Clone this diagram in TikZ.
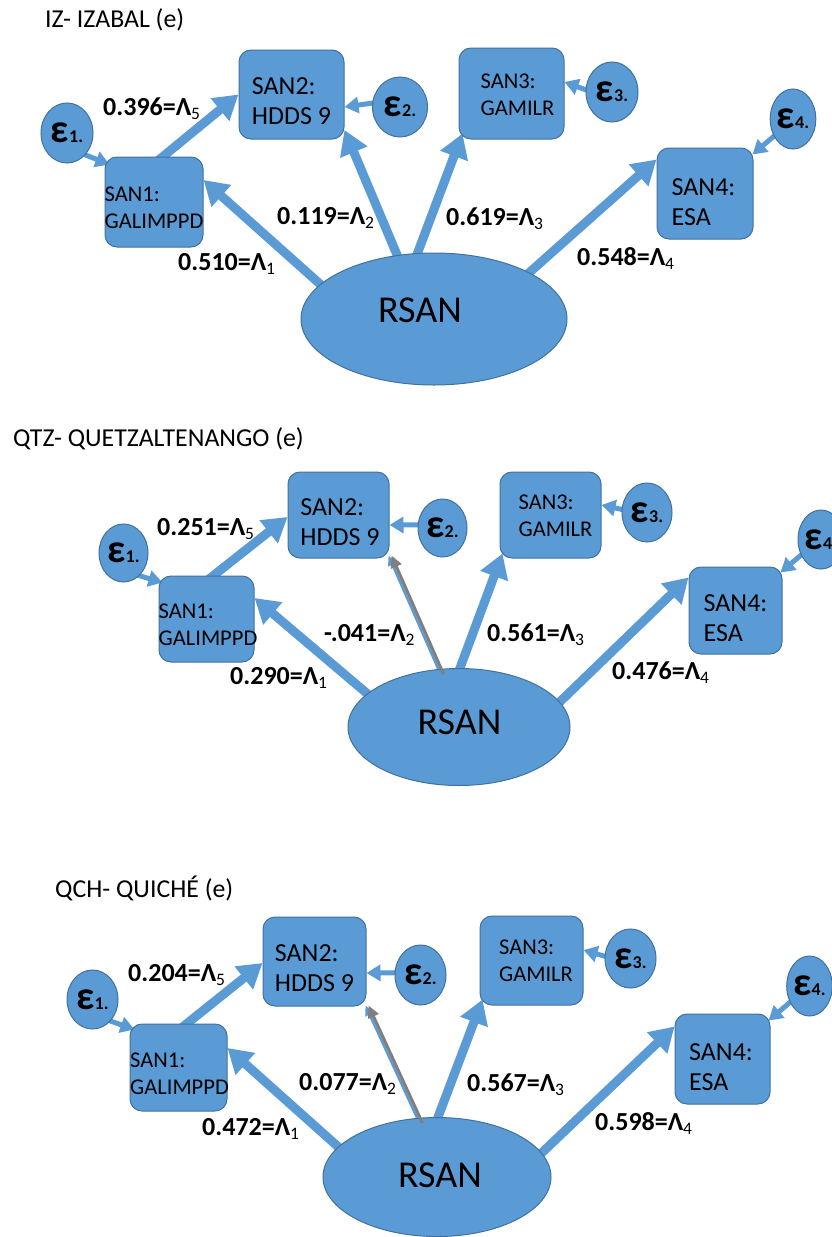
\documentclass[tikz,border=0pt]{standalone}
\usepackage{fontspec}
\setmainfont{Carlito}
\usetikzlibrary{arrows.meta,shapes.geometric}

\definecolor{sanfill}{HTML}{5B9BD5}
\definecolor{sanedge}{HTML}{41719C}
\definecolor{weakgray}{HTML}{7F7F7F}

\pgfdeclarelayer{bg}
\pgfsetlayers{bg,main}

% loading label: bold value, Lambda and a lowered index
\newcommand\lam[2]{\textbf{#1=Λ}\raisebox{-4pt}{\fontsize{17.5}{17.5}\selectfont #2}}
% error term: large bold epsilon with a small index
\newcommand\errterm[1]{{\fontsize{40}{40}\selectfont\bfseries ε}{\fontsize{18}{18}\selectfont\bfseries #1.}}

\tikzset{
  box/.style={draw=sanedge, line width=1pt, fill=sanfill, rounded corners=12pt, inner sep=0pt},
  err/.style={ellipse, draw=sanedge, line width=1pt, fill=sanfill, inner sep=0pt},
  latent/.style={ellipse, draw=sanedge, line width=1pt, fill=sanfill, inner sep=0pt},
  bigtext/.style={font=\fontsize{26}{30}\selectfont, align=left, inner sep=0pt},
  smalltext/.style={font=\fontsize{22.5}{27}\selectfont, align=left, inner sep=0pt},
  rsantext/.style={font=\fontsize{38}{40}\selectfont, inner sep=0pt},
  coef/.style={anchor=base west, inner sep=0pt, font=\fontsize{26}{30}\selectfont},
  title/.style={anchor=base west, inner sep=0pt, font=\fontsize{25.8}{30}\selectfont},
  load/.style={draw=sanfill, line width=9pt, -{Triangle[width=28pt,length=24pt]}, shorten <=-12pt},
  errpath/.style={draw=sanfill, line width=5pt, -{Triangle[width=16pt,length=14pt]}, shorten <=-6pt},
  weak/.style={draw=weakgray, line width=3pt, -{Triangle[width=11pt,length=12pt]}, shorten <=-6pt},
  weakblue/.style={draw=sanfill, line width=2.5pt, -{Triangle[width=9pt,length=10pt]}, shorten <=-6pt},
}

\begin{document}
\begin{tikzpicture}[x=1pt,y=-1pt]
\useasboundingbox (0,0) rectangle (831,1237);
\begin{pgfonlayer}{bg}
  \fill[white] (0,0) rectangle (831,1237);
\end{pgfonlayer}

% ---------------- IZ - IZABAL ----------------
\node[title] (t1) at (45,27.3) {IZ- IZABAL (e)};
\node[latent, minimum width=266pt, minimum height=132pt,
      label={[rsantext,xshift=-14pt,yshift=9pt]center:RSAN}] (r1) at (434,319) {};
\node[box, minimum width=98pt, minimum height=90pt,
      label={[smalltext,yshift=-5.5pt]center:{SAN1:\\GALIMPPD}}] (s11) at (154,202) {};
\node[box, minimum width=105pt, minimum height=89pt,
      label={[bigtext,yshift=-7pt]center:{SAN2:\\HDDS 9}}] (s12) at (291.5,94.5) {};
\node[box, minimum width=105pt, minimum height=91pt,
      label={[smalltext,xshift=6pt,yshift=-1pt]center:{SAN3:\\GAMILR}}] (s13) at (511.5,93.5) {};
\node[box, minimum width=96pt, minimum height=91pt,
      label={[bigtext,xshift=-1.5pt,yshift=-8.5pt]center:{SAN4:\\ESA}}] (s14) at (705,193.5) {};
\node[err, minimum width=52pt, minimum height=60pt] (e11) at (67,133) {\errterm{1}};
\node[err, minimum width=55pt, minimum height=60pt] (e12) at (400,107) {\errterm{2}};
\node[err, minimum width=52pt, minimum height=60pt] (e13) at (612,92) {\errterm{3}};
\node[err, minimum width=45pt, minimum height=60pt] (e14) at (793,119) {\errterm{4}};
\node[coef] (c15) at (103,115) {\lam{0.396}{5}};
\node[coef] (c12) at (277,224) {\lam{0.119}{2}};
\node[coef] (c13) at (446,225) {\lam{0.619}{3}};
\node[coef] (c11) at (178,270.5) {\lam{0.510}{1}};
\node[coef] (c14) at (577,265) {\lam{0.548}{4}};

\begin{pgfonlayer}{bg}
  \draw[load] (r1.163) -- ([yshift=22pt]s11.east);
  \draw[load] (r1.120) -- ([yshift=-35.5pt]s12.east);
  \draw[load] (r1.104) -- ([xshift=4pt,yshift=6pt]s13.south west);
  \draw[load] (r1.26) -- ([yshift=-12pt]s14.north west);
  \draw[load] ([xshift=9pt]s11.north) -- (s12.west);
  \draw[errpath] (e11.-50) -- ([xshift=5pt,yshift=-8pt]s11.north west);
  \draw[errpath] (e12.172) -- ([yshift=-12.5pt]s12.east);
  \draw[errpath] (e13.175) -- ([yshift=11.5pt]s13.east);
  \draw[errpath] (e14.222) -- ([xshift=-1pt,yshift=-7pt]s14.north east);
\end{pgfonlayer}

% ---------------- QTZ - QUETZALTENANGO ----------------
\node[title] (t2) at (13,446.7) {QTZ- QUETZALTENANGO (e)};
\node[latent, minimum width=222pt, minimum height=117pt,
      label={[rsantext,xshift=0.5pt,yshift=5pt]center:RSAN}] (r2) at (459,727) {};
\node[box, minimum width=95pt, minimum height=86pt,
      label={[smalltext,xshift=1.5pt,yshift=-6pt]center:{SAN1:\\GALIMPPD}}] (s21) at (206.5,619) {};
\node[box, minimum width=101pt, minimum height=86pt,
      label={[bigtext,xshift=1.5pt,yshift=-7pt]center:{SAN2:\\HDDS 9}}] (s22) at (338.5,515) {};
\node[box, minimum width=101pt, minimum height=86pt,
      label={[smalltext,xshift=5pt,yshift=-0.5pt]center:{SAN3:\\GAMILR}}] (s23) at (550.5,515) {};
\node[box, minimum width=93pt, minimum height=87pt,
      label={[bigtext,yshift=-7.5pt]center:{SAN4:\\ESA}}] (s24) at (735.5,610.5) {};
\node[err, minimum width=49pt, minimum height=58pt] (e21) at (123.5,553) {\errterm{1}};
\node[err, minimum width=49pt, minimum height=58pt] (e22) at (442.5,528) {\errterm{2}};
\node[err, minimum width=50pt, minimum height=59pt] (e23) at (647,512.5) {\errterm{3}};
\node[err, minimum width=46pt, minimum height=59pt] (e24) at (821,539.5) {\errterm{4}};
\node[coef] (c25) at (157,535) {\lam{0.251}{5}};
\node[coef] (c22) at (324,641.7) {\lam{-.041}{2}};
\node[coef] (c21) at (230,684) {\lam{0.290}{1}};
\node[coef] (c23) at (487,641) {\lam{0.561}{3}};
\node[coef] (c24) at (612,679) {\lam{0.476}{4}};

\begin{pgfonlayer}{bg}
  \draw[load] (r2.160) -- ([yshift=21pt]s21.east);
  \draw[weakblue] ([xshift=-3pt]r2.107) -- ([xshift=-1pt,yshift=3pt]s22.south east);
  \draw[load] (r2.89) -- ([xshift=3pt,yshift=5pt]s23.south west);
  \draw[load] (r2.14) -- ([yshift=-11pt]s24.north west);
  \draw[load] ([xshift=7pt]s21.north) -- ([yshift=-2pt]s22.west);
  \draw[errpath] (e21.-55) -- ([xshift=4pt,yshift=-7pt]s21.north west);
  \draw[errpath] (e22.173) -- ([yshift=-10pt]s22.east);
  \draw[errpath] (e23.173) -- ([yshift=10pt]s23.east);
  \draw[errpath] (e24.218) -- ([xshift=-2pt,yshift=-6pt]s24.north east);
\end{pgfonlayer}
\draw[weak] (r2.107) -- ([xshift=2pt,yshift=3pt]s22.south east);

% ---------------- QCH - QUICHE ----------------
\node[title] (t3) at (55,897) {QCH- QUICHÉ (e)};
\node[latent, minimum width=228pt, minimum height=119pt,
      label={[rsantext,xshift=3pt,yshift=2pt]center:RSAN}] (r3) at (437,1177) {};
\node[box, minimum width=97pt, minimum height=87pt,
      label={[smalltext,xshift=1pt,yshift=-6pt]center:{SAN1:\\GALIMPPD}}] (s31) at (178.5,1067.5) {};
\node[box, minimum width=103pt, minimum height=89pt,
      label={[bigtext,yshift=-6.5pt]center:{SAN2:\\HDDS 9}}] (s32) at (314.5,961.5) {};
\node[box, minimum width=103pt, minimum height=89pt,
      label={[smalltext,xshift=4.5pt,yshift=-0.5pt]center:{SAN3:\\GAMILR}}] (s33) at (531.5,960.5) {};
\node[box, minimum width=95pt, minimum height=90pt,
      label={[bigtext,xshift=-1.5pt,yshift=-8pt]center:{SAN4:\\ESA}}] (s34) at (722.5,1059) {};
\node[err, minimum width=51pt, minimum height=59pt] (e31) at (92.5,999.5) {\errterm{1}};
\node[err, minimum width=51pt, minimum height=60pt] (e32) at (420.5,975) {\errterm{2}};
\node[err, minimum width=51pt, minimum height=59pt] (e33) at (630.5,958.5) {\errterm{3}};
\node[err, minimum width=44pt, minimum height=60pt] (e34) at (809.5,986) {\errterm{4}};
\node[coef] (c35) at (128,981.7) {\lam{0.204}{5}};
\node[coef] (c32) at (299,1090) {\lam{0.077}{2}};
\node[coef] (c31) at (202,1135.7) {\lam{0.472}{1}};
\node[coef] (c33) at (467,1091.7) {\lam{0.567}{3}};
\node[coef] (c34) at (595,1130) {\lam{0.598}{4}};

\begin{pgfonlayer}{bg}
  \draw[load] (r3.163) -- ([yshift=19.5pt]s31.east);
  \draw[weakblue] ([xshift=-3pt]r3.106) -- ([xshift=-1pt,yshift=1pt]s32.south east);
  \draw[load] (r3.89) -- ([xshift=3pt,yshift=6pt]s33.south west);
  \draw[load] (r3.13) -- ([yshift=-13pt]s34.north west);
  \draw[load] ([xshift=8.5pt]s31.north) -- ([yshift=-1.5pt]s32.west);
  \draw[errpath] (e31.-50) -- ([xshift=5pt,yshift=-6pt]s31.north west);
  \draw[errpath] (e32.175) -- ([yshift=-11.5pt]s32.east);
  \draw[errpath] (e33.175) -- ([yshift=10.5pt]s33.east);
  \draw[errpath] (e34.220) -- ([xshift=-2pt,yshift=-7pt]s34.north east);
\end{pgfonlayer}
\draw[weak] (r3.106) -- ([xshift=2pt,yshift=1pt]s32.south east);
\end{tikzpicture}
\end{document}
